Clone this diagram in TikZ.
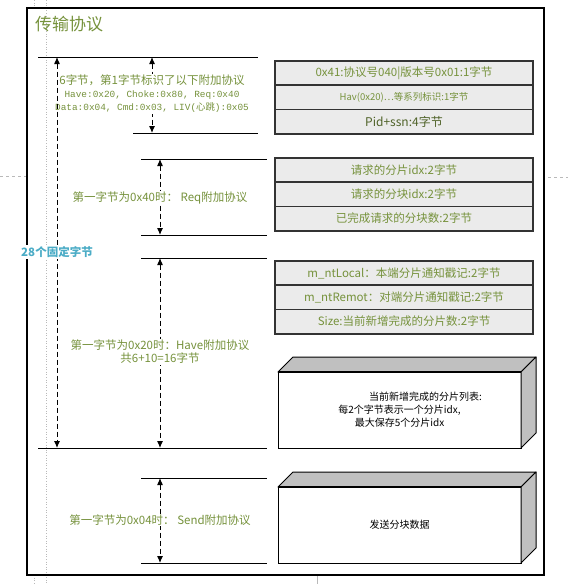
\documentclass[tikz,border=0pt]{standalone}
\usepackage{fontspec}
\setmainfont{Noto Sans CJK SC}
\newfontfamily\codefont{Liberation Mono}
\usetikzlibrary{calc,positioning,arrows.meta}
\definecolor{protogreen}{HTML}{76923C}
\definecolor{protodark}{HTML}{4F6228}
\definecolor{fixedblue}{HTML}{4BACC6}
\definecolor{slabgray}{HTML}{C0C0C0}
\tikzset{
  guide/.style={gray!55, line width=0.6pt},
  frame/.style={line width=1.2pt},
  rule/.style={line width=1pt},
  span/.style={line width=1pt, dash pattern=on 5pt off 3pt, {Latex[length=7pt,width=6pt]}-{Latex[length=7pt,width=6pt]}},
  note/.style={text=protogreen, fill=white, inner sep=1pt, align=center, font=\fontsize{11.5}{14}\selectfont},
  field/.style={draw=black!80, line width=1.6pt, fill=black!8, outer sep=0pt, inner sep=0pt,
    minimum width=258pt, minimum height=24.3pt, text=protogreen, font=\fontsize{11.5}{14}\selectfont},
  slab/.style={draw, fill=white, line width=1pt, outer sep=0pt, minimum width=243pt, minimum height=76pt,
    align=center, font=\fontsize{10}{13}\selectfont},
  face/.style={fill=slabgray, draw=black, line width=1pt, line join=round}
}
% top and right faces of a box drawn in perspective
\newcommand{\slabfaces}[1]{%
  \filldraw[face] (#1.north west) -- ++(15,-15) -- ($(#1.north east)+(15,-15)$) -- (#1.north east) -- cycle;
  \filldraw[face] (#1.north east) -- ++(15,-15) -- ($(#1.south east)+(15,-15)$) -- (#1.south east) -- cycle;
  \draw[line width=1.8pt] (#1.north west) -- (#1.north east);}
\newcommand{\codeline}[1]{{\fontsize{9.4}{13}\selectfont #1}}

\begin{document}
\begin{tikzpicture}[x=1pt,y=-1pt]
  \useasboundingbox (0,0) rectangle (568,584);

  %%%%% page guides %%%%%
  \draw[guide, dotted] (46,0) -- (46,584);
  \draw[guide, dotted] (34,0) -- (34,8);
  \draw[guide, dotted] (34,575) -- (34,584);
  \draw[guide, dashed] (0,176) -- (27,176);
  \draw[guide, dashed] (548,177) -- (568,177);
  \draw[guide] (317,576) -- (317,584);

  \draw[frame] (27,8) rectangle (544,575);
  \node[anchor=west, text=protogreen, font=\fontsize{17}{20}\selectfont, inner sep=0pt] (title) at (35,24) {传输协议};

  %%%%% rulers %%%%%
  \coordinate (allTop) at (57,57);
  \coordinate (allBot) at (57,448);
  \draw[rule] (38,57) -- (258,57);
  \draw[rule] (133,133) -- (258,133);
  \draw[rule] (141,159) -- (267,159);
  \draw[rule] (141,235) -- (267,235);
  \draw[rule] (141,258) -- (267,258);
  \draw[rule] (38,448) -- (267,448);
  \draw[rule] (141,478) -- (267,478);
  \draw[rule] (141,563) -- (267,563);

  \coordinate (hdrTop) at (152,57);
  \coordinate (hdrBot) at (152,133);
  \coordinate (reqTop) at (160,159);
  \coordinate (reqBot) at (160,235);
  \coordinate (haveTop) at (160,258);
  \coordinate (haveBot) at (160,448);
  \coordinate (sendTop) at (160,478);
  \coordinate (sendBot) at (160,563);

  \draw[span] (hdrTop) -- (hdrBot);
  \draw[span] (reqTop) -- (reqBot);
  \draw[span] (haveTop) -- (haveBot);
  \draw[span] (sendTop) -- (sendBot);

  \node[note] (hdrNote) at (152,94) {6字节，第1字节标识了以下附加协议\\[-1pt]
    \codeline{\codefont Have:0x20, Choke:0x80, Req:0x40}\\[-1pt]
    \codeline{{\codefont Data:0x04, Cmd:0x03, LIV(}心跳{\codefont ):0x05}}};
  \node[note] (reqNote) at (160,198) {第一字节为0x40时： Req附加协议};
  \node[note] (haveNote) at (160,352) {第一字节为0x20时：Have附加协议\\[-1pt]共6+10=16字节};
  \node[note] (sendNote) at (160,520) {第一字节为0x04时： Send附加协议};

  \draw[span] (allTop) -- (allBot);
  \node[text=fixedblue, fill=white, inner sep=1pt, font=\bfseries\fontsize{11.5}{14}\selectfont] (fixed) at (57,252) {28个固定字节};

  %%%%% field tables %%%%%
  \node[field] (hdrA) at (404,73) {0x41:协议号040|版本号0x01:1字节};
  \node[field, below=0pt of hdrA, font=\fontsize{9.5}{12}\selectfont] (hdrB) {Hav(0x20)…等系列标识:1字节};
  \node[field, below=0pt of hdrB, text=protodark, font=\fontsize{12}{14}\selectfont] (hdrC) {Pid+ssn:4字节};

  \node[field] (reqA) at (404,170) {请求的分片idx:2字节};
  \node[field, below=0pt of reqA] (reqB) {请求的分块idx:2字节};
  \node[field, below=0pt of reqB] (reqC) {已完成请求的分块数:2字节};

  \node[field] (haveA) at (404,273) {m\_ntLocal：本端分片通知戳记:2字节};
  \node[field, below=0pt of haveA] (haveB) {m\_ntRemot：对端分片通知戳记:2字节};
  \node[field, below=0pt of haveB] (haveC) {Size:当前新增完成的分片数:2字节};

  %%%%% boxes %%%%%
  \node[slab] (pieceList) at (399.5,410) {\hspace*{52pt}当前新增完成的分片列表:\\每2个字节表示一个分片idx,\\最大保存5个分片idx};
  \slabfaces{pieceList}
  \node[slab] (blockData) at (399.5,525) {发送分块数据};
  \slabfaces{blockData}
\end{tikzpicture}
\end{document}
